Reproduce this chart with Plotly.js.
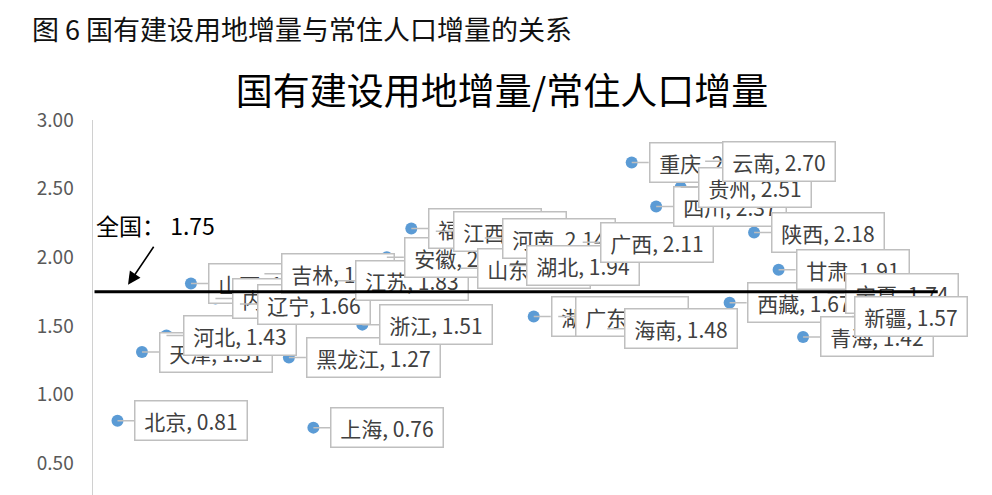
<!DOCTYPE html>
<html>
<head>
<meta charset="utf-8">
<script src="https://cdn.plot.ly/plotly-3.0.1.min.js"></script>
<style>
html,body{margin:0;padding:0;background:#fff;overflow:hidden;}
#chart{width:992px;height:572px;}
</style>
</head>
<body>
<div id="chart"></div>
<script>
// ---- data ----
const provinces = ['北京','天津','河北','山西','内蒙古','辽宁','吉林','黑龙江','上海','江苏','浙江','安徽','福建','江西','山东','河南','湖北','湖南','广东','广西','海南','重庆','四川','贵州','云南','西藏','陕西','甘肃','青海','宁夏','新疆'];
const ratios = [0.81,1.31,1.43,1.81,1.70,1.66,1.88,1.27,0.76,1.83,1.51,2.00,2.21,2.19,1.92,2.14,1.94,1.57,1.57,2.11,1.48,2.69,2.37,2.51,2.70,1.67,2.18,1.91,1.42,1.74,1.57];
const nationalLabel = '全国';
const nationalValue = 1.75;
const yTicks = [0.5, 1.0, 1.5, 2.0, 2.5, 3.0];
const caption = '图 6 国有建设用地增量与常住人口增量的关系';
const chartTitle = '国有建设用地增量/常住人口增量';

// ---- layout helpers (positions/styles, not data) ----
const labelDx = {'新疆': 2};
const xPos = provinces.map((_, i) => i + 1);
const FONT = '"Noto Sans CJK SC", "Noto Sans", sans-serif';

const annotations = [];
provinces.forEach((p, i) => {
  annotations.push({
    x: xPos[i], y: ratios[i], xref: 'x', yref: 'y',
    text: '&nbsp;' + p + ', ' + ratios[i].toFixed(2) + '&nbsp;',
    showarrow: true, arrowhead: 0, arrowwidth: 1.5, arrowcolor: '#BFBFBF',
    ax: (labelDx[p] !== undefined ? labelDx[p] : 17), ay: 0,
    xanchor: 'left', yanchor: 'middle',
    bgcolor: '#FFFFFF', bordercolor: '#BFBFBF', borderwidth: 1.5, borderpad: 4,
    font: {family: FONT, size: 21, color: '#404040'}
  });
});

// national average line (drawn above labels)
annotations.push({
  x: 34.5, y: nationalValue, xref: 'x', yref: 'y',
  axref: 'x', ayref: 'y', ax: 0, ay: nationalValue,
  text: ' ', font: {size: 1}, showarrow: true, arrowhead: 0,
  arrowwidth: 3, arrowcolor: '#000000', standoff: 0, startstandoff: 0
});
// national text
annotations.push({
  x: 0.06, y: 2.235, xref: 'x', yref: 'y', xanchor: 'left', yanchor: 'middle',
  text: nationalLabel + '： ' + nationalValue.toFixed(2), showarrow: false,
  font: {family: FONT, size: 23, color: '#000000'}
});
// arrow pointing to line
annotations.push({
  x: 1.43, y: 1.80, xref: 'x', yref: 'y', ax: 27, ay: -40,
  text: ' ', font: {size: 1}, showarrow: true, arrowhead: 2, arrowsize: 1.6,
  arrowwidth: 1.6, arrowcolor: '#000000', standoff: 0
});
// caption
annotations.push({
  x: -0.0735, y: 1.2233, xref: 'paper', yref: 'paper', xanchor: 'left', yanchor: 'middle',
  text: caption, showarrow: false,
  font: {family: FONT, size: 27, color: '#111111'}
});

const trace = {
  x: xPos, y: ratios, text: provinces, type: 'scatter', mode: 'markers',
  marker: {color: '#5B9BD5', size: 12},
  hoverinfo: 'text+y', cliponaxis: false
};

const layout = {
  width: 992, height: 572,
  margin: {l: 93, r: 42, t: 120, b: 40, pad: 0},
  paper_bgcolor: '#FFFFFF', plot_bgcolor: '#FFFFFF',
  showlegend: false,
  title: {text: chartTitle, xref: 'container', yref: 'container', x: 0.506, y: 0.839,
          xanchor: 'center', yanchor: 'middle',
          font: {family: FONT, size: 37, color: '#000000'}},
  xaxis: {range: [0, 35], showline: false, showgrid: false, zeroline: false,
          showticklabels: false, ticks: ''},
  yaxis: {range: [0, 3], tickvals: yTicks, tickformat: '.2f', showline: true,
          linecolor: '#D0D0D0', linewidth: 1.5, showgrid: false, zeroline: false,
          ticks: '', ticklabelstandoff: 14,
          tickfont: {family: FONT, size: 19, color: '#595959'}},
  annotations: annotations
};

Plotly.newPlot('chart', [trace], layout, {displayModeBar: false, staticPlot: true});
</script>
</body>
</html>
